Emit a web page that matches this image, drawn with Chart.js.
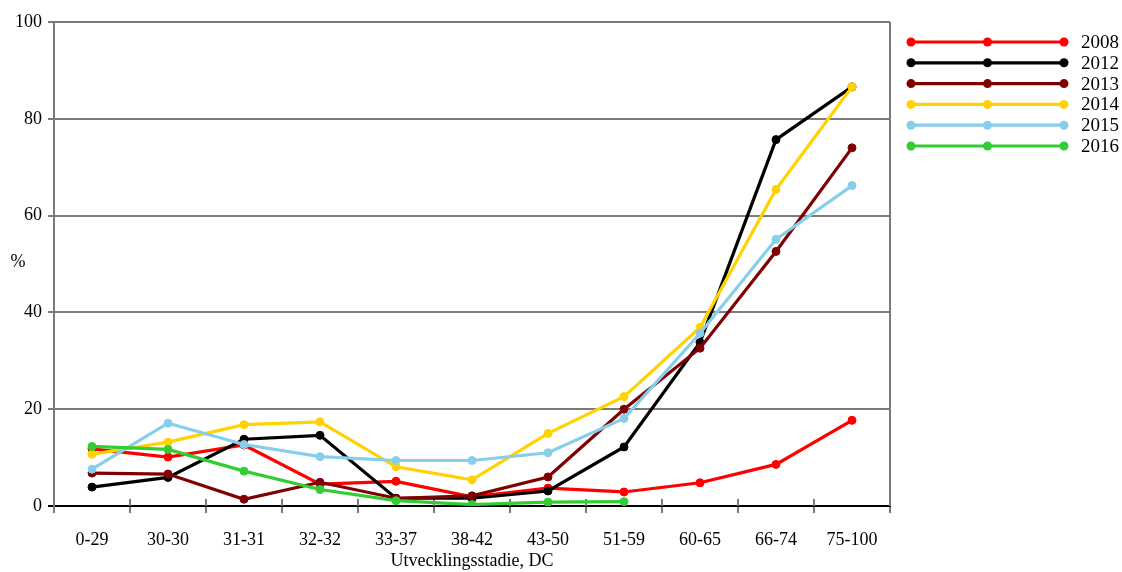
<!DOCTYPE html>
<html>
<head>
<meta charset="utf-8">
<script src="https://cdn.jsdelivr.net/npm/chart.js@4.4.1/dist/chart.umd.min.js"></script>
<style>
  html, body { margin: 0; padding: 0; background: #fff; }
  #wrap { position: relative; width: 1122px; height: 572px; }
</style>
</head>
<body>
<div id="wrap"><canvas id="c"></canvas></div>
<script>
const categories = ['0-29','30-30','31-31','32-32','33-37','38-42','43-50','51-59','60-65','66-74','75-100'];
const seriesNames = ['2008','2012','2013','2014','2015','2016'];
const s2008 = [11.8, 10.1, 12.6, 4.5, 5.1, 1.9, 3.7, 2.9, 4.8, 8.6, 17.7];
const s2012 = [3.9, 5.9, 13.8, 14.6, 1.6, 1.6, 3.1, 12.2, 33.8, 75.7, 86.6];
const s2013 = [6.8, 6.6, 1.4, 4.9, 1.6, 2.1, 6.0, 20.0, 32.6, 52.6, 74.0];
const s2014 = [10.7, 13.2, 16.8, 17.4, 8.1, 5.4, 15.0, 22.6, 36.9, 65.4, 86.6];
const s2015 = [7.6, 17.1, 12.7, 10.2, 9.4, 9.4, 11.0, 18.1, 35.7, 55.1, 66.2];
const s2016 = [12.3, 11.7, 7.2, 3.4, 1.1, 0.3, 0.8, 0.9, null, null, null];
const yTicks = [0, 20, 40, 60, 80, 100];
const seriesValues = [s2008, s2012, s2013, s2014, s2015, s2016];
const colors = ['#ff0000', '#000000', '#7f0000', '#ffd200', '#87ceeb', '#32cd32'];

const FONT = 'Liberation Serif, Times New Roman, serif';
const GRID = '#7a7a7a';

const datasets = seriesNames.map((name, i) => ({
  label: name,
  data: seriesValues[i],
  borderColor: colors[i],
  backgroundColor: colors[i],
  pointBackgroundColor: colors[i],
  pointBorderColor: colors[i],
  borderWidth: 3.2,
  pointRadius: 4,
  pointBorderWidth: 1,
  tension: 0,
  fill: false,
  order: seriesNames.length - i
}));

const extras = {
  id: 'extras',
  beforeDatasetsDraw(chart) {
    const ctx = chart.ctx;
    const ca = chart.chartArea;
    const xs = chart.scales.x;
    ctx.save();
    // right border
    ctx.strokeStyle = GRID;
    ctx.lineWidth = 2;
    ctx.beginPath();
    ctx.moveTo(ca.right, ca.top);
    ctx.lineTo(ca.right, ca.bottom);
    ctx.stroke();
    // upward part of category boundary tick marks
    const n = chart.data.labels.length;
    for (let i = 1; i < n; i++) {
      const px = (xs.getPixelForValue(i - 1) + xs.getPixelForValue(i)) / 2;
      ctx.beginPath();
      ctx.moveTo(px, ca.bottom - 7);
      ctx.lineTo(px, ca.bottom);
      ctx.stroke();
    }
    ctx.restore();
  },
  afterDraw(chart) {
    const ctx = chart.ctx;
    ctx.save();
    // y unit label
    ctx.fillStyle = '#000';
    ctx.font = '18px ' + FONT;
    ctx.textAlign = 'center';
    ctx.textBaseline = 'middle';
    ctx.fillText('%', 18, 262);
    // legend
    const x0 = 911, x1 = 1064, xm = (x0 + x1) / 2;
    chart.data.datasets.forEach((ds, i) => {
      const y = 42 + i * 20.8;
      ctx.strokeStyle = ds.borderColor;
      ctx.fillStyle = ds.borderColor;
      ctx.lineWidth = 3.2;
      ctx.beginPath();
      ctx.moveTo(x0, y);
      ctx.lineTo(x1, y);
      ctx.stroke();
      [x0, xm, x1].forEach(px => {
        ctx.beginPath();
        ctx.arc(px, y, 4.5, 0, Math.PI * 2);
        ctx.fill();
      });
      ctx.fillStyle = '#000';
      ctx.font = '19px ' + FONT;
      ctx.textAlign = 'left';
      ctx.textBaseline = 'middle';
      ctx.fillText(ds.label, 1081, y + 1);
    });
    ctx.restore();
  }
};

new Chart(document.getElementById('c'), {
  type: 'line',
  data: { labels: categories, datasets },
  options: {
    responsive: true,
    maintainAspectRatio: false,
    animation: false,
    layout: { padding: { top: 22, right: 232, bottom: 0, left: 0 } },
    plugins: { legend: { display: false }, tooltip: { enabled: false } },
    scales: {
      x: {
        type: 'category',
        offset: true,
        grid: { offset: true, drawOnChartArea: false, drawTicks: true, tickLength: 7, color: GRID, lineWidth: 2 },
        border: { color: '#000', width: 2 },
        ticks: { color: '#000', font: { family: FONT, size: 18 }, padding: 16, maxRotation: 0, autoSkip: false },
        title: { display: true, text: 'Utvecklingsstadie, DC', color: '#000', font: { family: FONT, size: 18 }, padding: { top: 0, bottom: 0 } },
        afterFit: s => { s.height = 66; }
      },
      y: {
        min: 0, max: 100,
        afterBuildTicks: s => { s.ticks = yTicks.map(v => ({ value: v })); },
        grid: {
          color: c => (c.tick && c.tick.value === 0) ? '#000' : GRID,
          lineWidth: 2, tickLength: 6, drawTicks: true
        },
        border: { color: GRID, width: 2 },
        ticks: { color: '#000', font: { family: FONT, size: 18 }, padding: 6 },
        afterFit: s => { s.width = 54; }
      }
    }
  },
  plugins: [extras]
});
</script>
</body>
</html>
